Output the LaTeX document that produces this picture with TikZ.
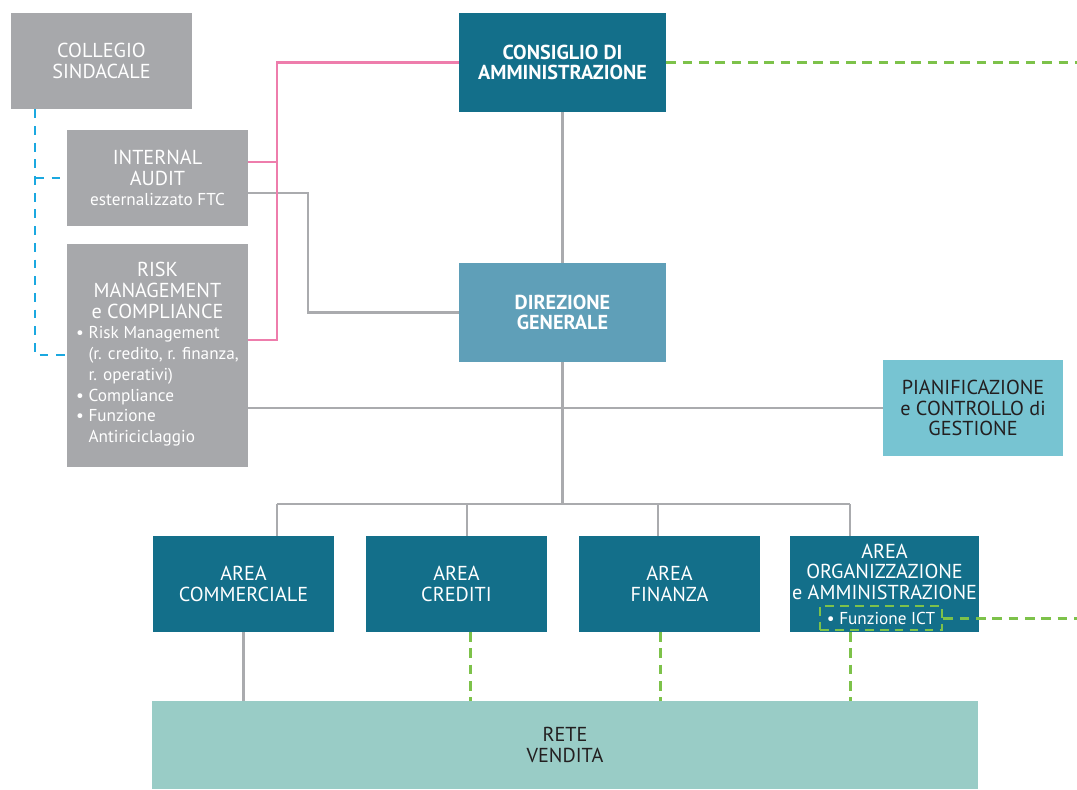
\documentclass[tikz,border=0pt]{standalone}
\usepackage{fontspec}
\setmainfont{PT Sans}
\usetikzlibrary{positioning}

\definecolor{darkteal}{RGB}{19,111,138}
\definecolor{midteal}{RGB}{95,159,184}
\definecolor{lightteal}{RGB}{119,196,210}
\definecolor{retecol}{RGB}{153,204,198}
\definecolor{boxgray}{RGB}{167,168,171}
\definecolor{linegray}{RGB}{170,171,174}
\definecolor{pinkcol}{RGB}{238,125,172}
\definecolor{greencol}{RGB}{125,194,74}
\definecolor{bluecol}{RGB}{27,168,224}
\definecolor{textdark}{RGB}{35,31,32}

\newcommand{\itemfont}{\fontsize{9.8}{11}\selectfont}

\begin{document}
\begin{tikzpicture}[x=0.02cm, y=-0.02cm]
    \tikzstyle{box} = [rectangle, align=center, inner sep=0pt, font=\fontsize{11.5}{11.8}\selectfont]
    \tikzstyle{graybox} = [box, fill=boxgray, text=white, minimum width=3.62cm, minimum height=1.92cm]
    \tikzstyle{areabox} = [box, fill=darkteal, text=white, minimum width=3.62cm, minimum height=1.92cm]
    \tikzstyle{line} = [draw=linegray, line width=1.3pt]
    \tikzstyle{pinkline} = [draw=pinkcol, line width=1.2pt]
    \tikzstyle{greendash} = [draw=greencol, line width=1.7pt, dash pattern=on 5.5pt off 3.8pt]
    \tikzstyle{bluedash} = [draw=bluecol, line width=1.6pt, dash pattern=on 5pt off 4.5pt]

    \useasboundingbox (0,0) rectangle (1077,789);

    % organi di controllo
    \node[graybox](collegio) at (101.5,61){COLLEGIO\\SINDACALE};
    \node[graybox](audit) at (157.5,178){INTERNAL\\AUDIT\\{\itemfont esternalizzato FTC}};
    \node[graybox, minimum height=4.46cm](risk) at (157.5,355.5){%
        \begin{tabular}{@{}l@{}}
        \multicolumn{1}{@{}c@{}}{RISK}\\
        \multicolumn{1}{@{}c@{}}{MANAGEMENT}\\
        \multicolumn{1}{@{}c@{}}{e COMPLIANCE}\\
        {\itemfont \textbullet\ Risk Management}\\
        {\itemfont \phantom{\textbullet\ }(r. credito, r. finanza,}\\
        {\itemfont \phantom{\textbullet\ }r. operativi)}\\
        {\itemfont \textbullet\ Compliance}\\
        {\itemfont \textbullet\ Funzione}\\
        {\itemfont \phantom{\textbullet\ }Antiriciclaggio}
        \end{tabular}};

    % vertici
    \node[box, fill=darkteal, text=white, font=\fontsize{11.5}{11.8}\selectfont\bfseries,
          minimum width=4.14cm, minimum height=1.98cm](cda) at (562.5,62.5){CONSIGLIO DI\\AMMINISTRAZIONE};
    \node[box, fill=midteal, text=white, font=\fontsize{11.5}{11.8}\selectfont\bfseries,
          minimum width=4.14cm, minimum height=1.98cm](dg) at (562.5,312.5){DIREZIONE\\GENERALE};
    \node[box, fill=lightteal, text=textdark, minimum width=3.6cm, minimum height=1.92cm](pcg) at (973,408){PIANIFICAZIONE\\e CONTROLLO di\\GESTIONE};

    % aree
    \node[areabox](comm) at (243.5,584){AREA\\COMMERCIALE};
    \node[areabox](cred) at (456.5,584){AREA\\CREDITI};
    \node[areabox](fin) at (669.5,584){AREA\\FINANZA};
    \node[areabox, minimum width=3.78cm](org) at (884.5,584){AREA\\ORGANIZZAZIONE\\e AMMINISTRAZIONE\\[2pt]\phantom{Funzione}};
    \node[box, draw=greencol, line width=1.5pt, dash pattern=on 5pt off 3.5pt, text=white, font=\itemfont,
          minimum width=2.44cm, minimum height=0.48cm](ict) at (881,618){\textbullet\ Funzione ICT};

    \node[box, fill=retecol, text=textdark, minimum width=16.52cm, minimum height=1.76cm](rete) at (565,745){RETE\\VENDITA};

    % coordinate di appoggio
    \coordinate (pk) at (277,340);
    \coordinate (ag) at (308,312.5);
    \coordinate (bl) at (35,355);
    \coordinate (b1) at (277,504);
    \coordinate (b2) at (467,504);
    \coordinate (b3) at (658,504);
    \coordinate (b4) at (850,504);
    \coordinate (g1) at (470,632);
    \coordinate (g2) at (660,632);
    \coordinate (g3) at (850,632);
    \coordinate (edge1) at (1077,62.5);
    \coordinate (edge2) at (1077,618);

    % linee gerarchiche
    \draw[line] (cda) -- (dg);
    \draw[line] (dg.south) -- (dg.south |- b1);
    \draw[line] (b1) -- (b4);
    \draw[line] (b1) -- (b1 |- comm.north);
    \draw[line] (b2) -- (b2 |- cred.north);
    \draw[line] (b3) -- (b3 |- fin.north);
    \draw[line] (b4) -- (b4 |- org.north);
    \draw[line] (risk.east |- pcg.west) -- (pcg.west);
    \draw[line] ([yshift=-0.3cm]audit.east) -| (ag) -- (dg.west);
    \draw[line] (comm.south) -- (comm.south |- rete.north);

    \draw[pinkline] (cda.west) -| (pk) -- (pk -| risk.east);
    \draw[pinkline] ([yshift=0.32cm]audit.east) -- ++(29,0);

    \draw[bluedash] (collegio.south -| bl) -- (bl) -- (bl -| risk.west);
    \draw[bluedash] (bl |- audit.west) -- (audit.west);

    \draw[greendash] (cda.east) -- (edge1);
    \draw[greendash] (ict.east) -- (edge2);
    \draw[greendash] (g1) -- (g1 |- rete.north);
    \draw[greendash] (g2) -- (g2 |- rete.north);
    \draw[greendash] (g3) -- (g3 |- rete.north);
\end{tikzpicture}
\end{document}
